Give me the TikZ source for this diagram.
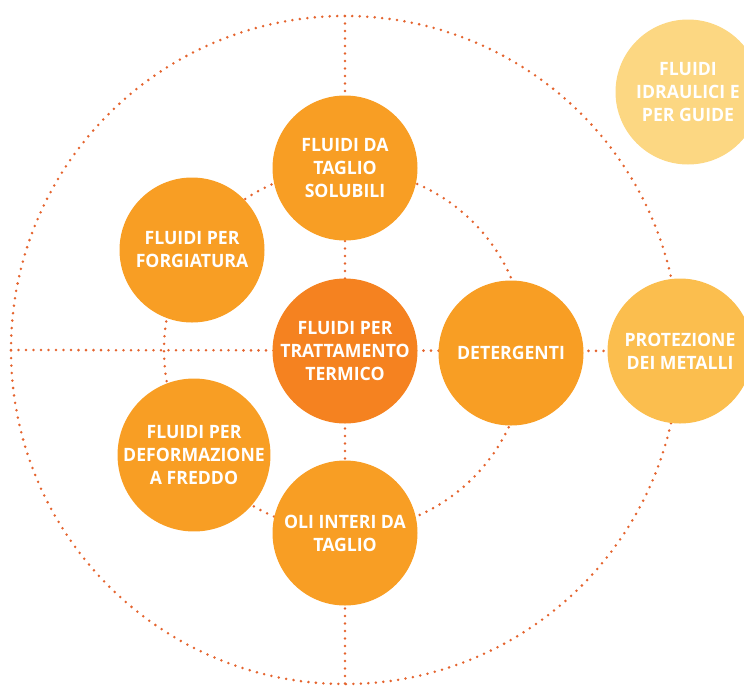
\documentclass[tikz,border=0pt]{standalone}
\usepackage{fontspec}
\setsansfont{Open Sans}[FakeStretch=0.96]
\definecolor{fluidoC}{RGB}{245,130,32}
\definecolor{fluidoA}{RGB}{248,158,36}
\definecolor{fluidoP}{RGB}{251,190,78}
\definecolor{fluidoH}{RGB}{252,215,130}
\definecolor{puntini}{RGB}{228,100,46}
\begin{document}
\begin{tikzpicture}[x=1pt,y=-1pt]
			\useasboundingbox (0,0) rectangle (744,686);
			\def\R{181}
			\def\RR{334}
			\tikzstyle{dots}=[puntini, line width=2.8pt, line cap=round, dash pattern=on 0pt off 7.5pt]
			\tikzstyle{bubble}=[circle, inner sep=0pt, minimum size=145pt, text=white, align=center, font=\sffamily\bfseries\fontsize{18.4}{23}\selectfont]
			\coordinate (M) at (345,350);
			\coordinate (N) at (345,16);
			\coordinate (S) at (345,684);
			\coordinate (W) at (11,350);
			\coordinate (C1) at (345,351);
			\coordinate (C2) at (345,168);
			\coordinate (C3) at (192,250);
			\coordinate (C4) at (194,455);
			\coordinate (C5) at (345,533);
			\coordinate (C6) at (511,353);
			\coordinate (C7) at (680,351);
			\coordinate (C8) at (688,92);
			\draw[dots] (M) circle[radius=\R pt];
			\draw[dots] (M) circle[radius=\RR pt];
			\draw[dots] (W) -- (C7);
			\draw[dots] (N) -- (S);
			\node[bubble, fill=fluidoA] (solubili) at (C2) {FLUIDI DA\\TAGLIO\\SOLUBILI};
			\node[bubble, fill=fluidoA] (forgiatura) at (C3) {FLUIDI PER\\FORGIATURA};
			\node[bubble, fill=fluidoA] (freddo) at (C4) {FLUIDI PER\\DEFORMAZIONE\\A FREDDO};
			\node[bubble, fill=fluidoA] (oli) at (C5) {OLI INTERI DA\\TAGLIO};
			\node[bubble, fill=fluidoA] (detergenti) at (C6) {DETERGENTI};
			\node[bubble, fill=fluidoC] (termico) at (C1) {FLUIDI PER\\TRATTAMENTO\\TERMICO};
			\node[bubble, fill=fluidoP] (protezione) at (C7) {PROTEZIONE\\DEI METALLI};
			\node[bubble, fill=fluidoH] (idraulici) at (C8) {FLUIDI\\IDRAULICI E\\PER GUIDE};
		\end{tikzpicture}
\end{document}
